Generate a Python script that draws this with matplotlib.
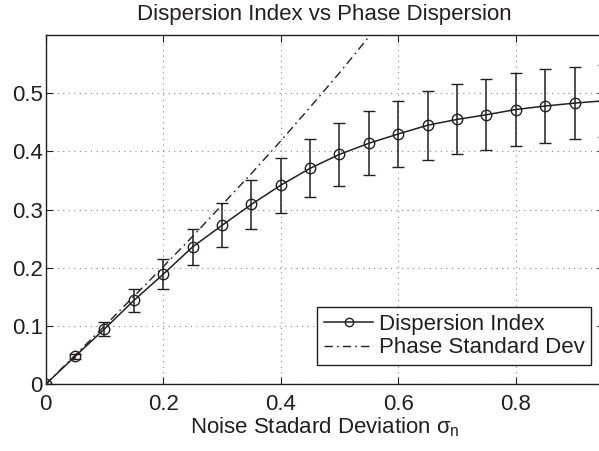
import matplotlib
matplotlib.use('Agg')
import matplotlib.pyplot as plt
from matplotlib.lines import Line2D

plt.rcParams['font.family'] = ['Liberation Sans', 'DejaVu Sans']
plt.rcParams['mathtext.fontset'] = 'custom'
plt.rcParams['mathtext.rm'] = 'Liberation Sans'
plt.rcParams['mathtext.it'] = 'Liberation Sans'

# noise levels and measured dispersion index (mean +/- spread)
sigma_n = [0.0, 0.05, 0.10, 0.15, 0.20, 0.25, 0.30, 0.35, 0.40, 0.45,
           0.50, 0.55, 0.60, 0.65, 0.70, 0.75, 0.80, 0.85, 0.90, 0.95]
disp_index = [0.0, 0.048, 0.095, 0.144, 0.189, 0.236, 0.273, 0.309, 0.342, 0.371,
              0.395, 0.414, 0.430, 0.445, 0.455, 0.463, 0.472, 0.478, 0.483, 0.487]
disp_err = [0.0, 0.004, 0.012, 0.019, 0.026, 0.031, 0.038, 0.042, 0.047, 0.050,
            0.054, 0.055, 0.057, 0.059, 0.060, 0.061, 0.062, 0.063, 0.062, 0.062]

# phase standard deviation for the same noise levels
sigma_phase_x = [0.0, 0.05, 0.10, 0.15, 0.20, 0.25, 0.30, 0.35, 0.40, 0.45, 0.50, 0.55, 0.60]
sigma_phase = [0.0, 0.050, 0.100, 0.151, 0.202, 0.254, 0.308, 0.362, 0.418, 0.476, 0.535, 0.597, 0.660]

ink = '#231f20'
fs = 16
dashdot = (6, 3, 1.2, 3)

fig = plt.figure(figsize=(5.99, 4.51), dpi=100)
ax = fig.add_axes([45.7 / 599, 1 - 384.3 / 451, 558.2 / 599, 349.3 / 451])

ax.errorbar(sigma_n, disp_index, yerr=disp_err, color=ink, lw=1.1,
            marker='o', ms=7.5, mfc='none', mew=1.0, capsize=4.3, capthick=1.1,
            elinewidth=1.1, zorder=3)
ax.plot(sigma_phase_x, sigma_phase, color=ink, lw=1.0, dashes=dashdot, zorder=2)

ax.set_xlim(0, 0.95)
ax.set_ylim(0, 0.6)
ax.set_xticks([0, 0.2, 0.4, 0.6, 0.8])
ax.set_xticklabels(['0', '0.2', '0.4', '0.6', '0.8'])
ax.set_yticks([0, 0.1, 0.2, 0.3, 0.4, 0.5])
ax.set_yticklabels(['0', '0.1', '0.2', '0.3', '0.4', '0.5'])

ax.grid(True, color='#888888', linestyle=(0, (1, 4)), linewidth=0.8)
ax.tick_params(direction='in', length=5, width=0.8, top=True, right=True,
               labelsize=fs, colors=ink)
ax.tick_params(axis='x', pad=7)
ax.tick_params(axis='y', pad=2)
for sp in ax.spines.values():
    sp.set_color(ink)
    sp.set_linewidth(1.0)

ax.set_title('Dispersion Index vs Phase Dispersion', fontsize=fs, color=ink, pad=11)
ax.set_xlabel(r'Noise Stadard Deviation $\sigma_{\mathrm{n}}$', fontsize=fs,
              color=ink, labelpad=0)

# legend shows plain line + marker, without error bar glyphs
handles = [
    Line2D([], [], color=ink, lw=1.1, marker='o', ms=6, mfc='none', mew=1.0),
    Line2D([], [], color=ink, lw=1.0, dashes=dashdot),
]
labels = ['Dispersion Index', 'Phase Standard Dev']
leg = ax.legend(handles, labels, loc='lower right',
                bbox_to_anchor=(591 / 599, 1 - 365 / 451),
                bbox_transform=fig.transFigure, borderaxespad=0, fontsize=fs,
                fancybox=False, framealpha=1, edgecolor=ink, handlelength=2.2,
                labelspacing=0.12, borderpad=0.3, handletextpad=0.25)
leg.get_frame().set_linewidth(1.0)
for t in leg.get_texts():
    t.set_color(ink)

fig.savefig('out.png', dpi=100)
